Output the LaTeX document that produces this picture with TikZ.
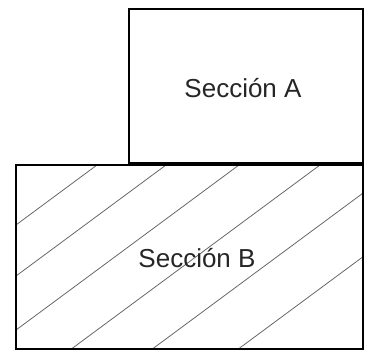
\documentclass[tikz,border=0pt]{standalone}
\usepackage{fontspec}
\setmainfont{Liberation Sans}
\usetikzlibrary{positioning}

\begin{document}
\begin{tikzpicture}[x=0.02cm, y=0.02cm, line cap=butt, line join=miter]
      \useasboundingbox (0,0) rectangle (366,360);

      % Rayado de la Sección B
      \begin{scope}
        \clip (16,11) rectangle (363,195);
        \foreach \xo in {97,166,239,320,401,487}
          \draw[black!60, line width=0.45pt] (\xo-320,195-236.8) -- (\xo+60,195+44.4);
      \end{scope}

      % Sección A
      \draw[line width=1.2pt, black] (129,197) rectangle (363,351);
      \node[font=\fontsize{14.8}{18}\selectfont, text=black!85] (secA) at (243,272) {Sección A};

      % Sección B
      \draw[line width=1.2pt, black] (16,11) rectangle (363,195);
      \node[font=\fontsize{14.8}{18}\selectfont, text=black!85] (secB) at (197,102) {Sección B};
\end{tikzpicture}
\end{document}
